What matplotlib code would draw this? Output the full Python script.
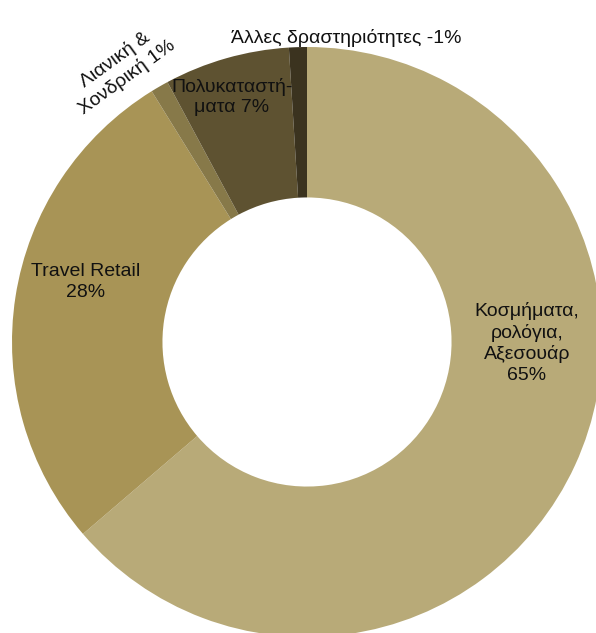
import numpy as np
import matplotlib.pyplot as plt

plt.rcParams['font.family'] = ['Liberation Sans', 'DejaVu Sans']

# Revenue split by activity (%)
names = ['Κοσμήματα,\nρολόγια,\nΑξεσουάρ', 'Travel Retail', 'Λιανική &\nΧονδρική',
         'Πολυκαταστή-\nματα', 'Άλλες δραστηριότητες']
values = [65, 28, 1, 7, -1]
colors = ['#b8aa78', '#a89456', '#877949', '#5e5231', '#3b331f']

# label anchor (pixels), separator and rotation for each slice
label_px = [(527, 343), (86, 282), (121, 68), (232, 97), (346, 38)]
label_sep = ['\n', '\n', ' ', ' ', ' ']
label_rot = [0, 0, 36, 0, 0]

W, H = 596, 633
cx, cy, R = 307, 342, 295

fig = plt.figure(figsize=(W / 100, H / 100), dpi=100)
ax = fig.add_axes([0, 0, 1, 1])

ax.pie(np.abs(values), colors=colors, startangle=90, counterclock=False,
       radius=1, wedgeprops=dict(width=0.51, linewidth=0))

for name, v, (px, py), sep, rot in zip(names, values, label_px, label_sep, label_rot):
    ax.text((px - cx) / R, (cy - py) / R, f'{name}{sep}{v}%', ha='center', va='center',
            fontsize=14, rotation=rot, linespacing=1.25, color='#111111')

ax.set_xlim(-cx / R, (W - cx) / R)
ax.set_ylim(-(H - cy) / R, cy / R)
ax.set_aspect('auto')
ax.axis('off')

fig.savefig('out.png', dpi=100)
